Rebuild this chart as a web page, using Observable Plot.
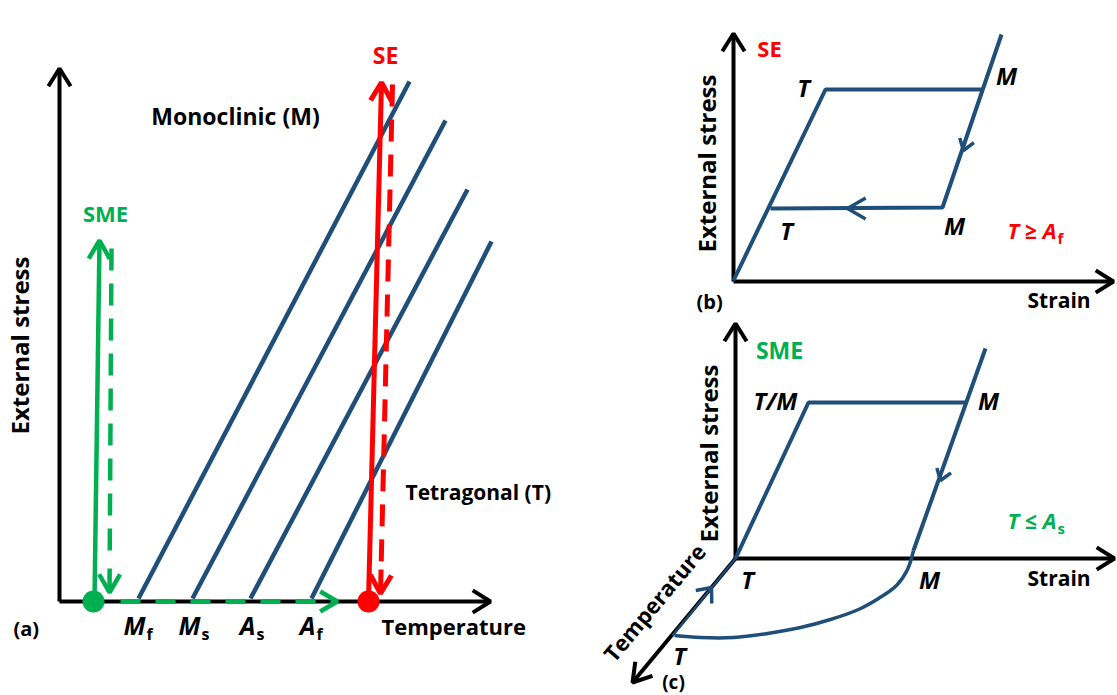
<!DOCTYPE html>
<html><head><meta charset="utf-8">
<script src="https://cdn.jsdelivr.net/npm/d3@7"></script>
<script src="https://cdn.jsdelivr.net/npm/@observablehq/plot@0.6"></script>
<style>
body{margin:0;background:#fff;}
#chart{width:1117px;height:695px;}
</style>
</head><body><div id="chart"></div>
<script>
const BLUE = "#1f4e79", GREEN = "#00b050", RED = "#ff0000", BLACK = "#000000";

// ---------- Panel (a): temperature vs external stress phase diagram ----------
const axesA = [
  {x1: 59, y1: 601, x2: 59, y2: 68},
  {x1: 59, y1: 601, x2: 490, y2: 601}
];
const transitionLines = [
  {name: "Mf", x1: 138, y1: 598, x2: 409, y2: 81},
  {name: "Ms", x1: 192, y1: 598, x2: 445, y2: 120},
  {name: "As", x1: 250, y1: 598, x2: 467, y2: 189},
  {name: "Af", x1: 311, y1: 598, x2: 491, y2: 241}
];
const solidArrowsA = [
  {x1: 94, y1: 600, x2: 99, y2: 240, c: GREEN, w: 4.5},   // SME loading
  {x1: 368, y1: 600, x2: 381, y2: 82, c: RED, w: 5}        // SE loading
];
const dashedArrowsA = [
  {x1: 111, y1: 248, x2: 109, y2: 592, c: GREEN, w: 4.5}, // SME unloading
  {x1: 392, y1: 84, x2: 380, y2: 593, c: RED, w: 5}        // SE unloading
];
const heatingA = [{x1: 120, y1: 601, x2: 337, y2: 601, c: GREEN, w: 4.5}];
const startPoints = [{x: 93, y: 601, c: GREEN}, {x: 368, y: 601, c: RED}];
const tempLabels = [
  {main: "M", sub: "f", x: 145, y: 634},
  {main: "M", sub: "s", x: 200, y: 634},
  {main: "A", sub: "s", x: 255, y: 634},
  {main: "A", sub: "f", x: 315, y: 634}
];

// ---------- Panel (b): SE stress-strain loop ----------
const axesB = [
  {x1: 733, y1: 281, x2: 733, y2: 33},
  {x1: 733, y1: 281, x2: 1113, y2: 281}
];
const seLoading = [{x: 733, y: 280}, {x: 825, y: 89}, {x: 983, y: 89}];
const seUnloading = [{x: 1001, y: 34}, {x: 942, y: 207}, {x: 770, y: 208}];

// ---------- Panel (c): SME stress-strain-temperature path ----------
const axesC = [
  {x1: 735, y1: 558, x2: 735, y2: 323},
  {x1: 735, y1: 558, x2: 1114, y2: 558},
  {x1: 735, y1: 558, x2: 632, y2: 682}
];
const smeLoading = [{x: 735, y: 558}, {x: 808, y: 402}, {x: 965, y: 402}];
const smeUnloading = [{x: 985, y: 348}, {x: 913, y: 550}];
const smeRecovery = [
  {x: 913, y: 550}, {x: 907, y: 569}, {x: 896, y: 585}, {x: 878, y: 598},
  {x: 858, y: 609}, {x: 830, y: 619}, {x: 800, y: 627}, {x: 767, y: 633},
  {x: 733, y: 637}, {x: 700, y: 637}, {x: 674, y: 635}
];
const heatingC = [{x1: 672, y1: 635, x2: 735, y2: 558}];

// mid-path direction markers: tip + a point behind it on the path
const pathMarkers = [
  {tx: 963, ty: 150, bx: 1001, by: 34, len: 13, half: 35},   // (b) unloading
  {tx: 847, ty: 208, bx: 942, by: 208, len: 21, half: 30},   // (b) reverse
  {tx: 940, ty: 480, bx: 985, by: 348, len: 13, half: 35},   // (c) unloading
  {tx: 711, ty: 587, bx: 672, by: 635, len: 16, half: 40}    // (c) heating
];

// ---------- text ----------
const middleLabels = [
  {t: "Monoclinic (M)", x: 235, y: 124, c: BLACK, s: 23},
  {t: "SE", x: 385, y: 63, c: RED, s: 23},
  {t: "SME", x: 105, y: 221, c: GREEN, s: 22},
  {t: "SE", x: 769, y: 56, c: RED, s: 22},
  {t: "SME", x: 779, y: 358, c: GREEN, s: 23},
  {t: "(c)", x: 673, y: 688, c: BLACK, s: 19}
];
const startLabels = [
  {t: "Tetragonal (T)", x: 405, y: 499, c: BLACK, s: 21},
  {t: "(a)", x: 13, y: 635, c: BLACK, s: 20},
  {t: "Temperature", x: 381, y: 634, c: BLACK, s: 22},
  {t: "(b)", x: 696, y: 308, c: BLACK, s: 20},
  {t: "Strain", x: 1027, y: 307, c: BLACK, s: 21},
  {t: "Strain", x: 1027, y: 585, c: BLACK, s: 21}
];
const rotatedLabels = [
  {t: "External stress", x: 21, y: 345, r: -90, s: 24},
  {t: "External stress", x: 708, y: 163, r: -90, s: 24},
  {t: "External stress", x: 710, y: 453, r: -90, s: 24},
  {t: "Temperature", x: 655, y: 603, r: -50, s: 22}
];
const italicLabels = [
  {t: "T", x: 803, y: 96}, {t: "M", x: 1006, y: 84},
  {t: "T", x: 786, y: 239}, {t: "M", x: 954, y: 234},
  {t: "T/M", x: 775, y: 409}, {t: "M", x: 988, y: 409},
  {t: "T", x: 747, y: 588}, {t: "M", x: 929, y: 588},
  {t: "T", x: 679, y: 664}
];
const conditionLabels = [
  {main: "T ≥ A", sub: "f", x: 1056, y: 238, c: RED},
  {main: "T ≤ A", sub: "s", x: 1056, y: 528, c: GREEN}
];

// ---------- derived geometry (arrow heads, dash split) ----------
let hid = 0;
const headPts = [];
function addHead(tx, ty, bx, by, len, half, c, w) {
  const d = Math.hypot(bx - tx, by - ty), ux = (bx - tx) / d, uy = (by - ty) / d;
  const a = half * Math.PI / 180, id = hid++;
  const rot = (s) => ({x: tx + len * (ux * Math.cos(s * a) - uy * Math.sin(s * a)),
                       y: ty + len * (ux * Math.sin(s * a) + uy * Math.cos(s * a))});
  const p1 = rot(1), p2 = rot(-1);
  headPts.push({...p1, id, c, w}, {x: tx, y: ty, id, c, w}, {...p2, id, c, w});
}
const axesAll = [...axesA, ...axesB, ...axesC];
axesAll.forEach(a => addHead(a.x2, a.y2, a.x1, a.y1, 21, 32, BLACK, 4));
solidArrowsA.forEach(a => addHead(a.x2, a.y2, a.x1, a.y1, 21, 30, a.c, a.w));
dashedArrowsA.forEach(a => addHead(a.x2, a.y2, a.x1, a.y1, 21, 30, a.c, a.w));
heatingA.forEach(a => addHead(a.x2, a.y2, a.x1, a.y1, 20, 30, a.c, a.w));
pathMarkers.forEach(m => addHead(m.tx, m.ty, m.bx, m.by, m.len, m.half, BLUE, 3.5));

const dashedParts = [], solidTips = [];
dashedArrowsA.forEach(a => {
  const d = Math.hypot(a.x2 - a.x1, a.y2 - a.y1), f = (d - 30) / d, g = (d - 24) / d;
  dashedParts.push({x1: a.x1, y1: a.y1, x2: a.x1 + f * (a.x2 - a.x1), y2: a.y1 + f * (a.y2 - a.y1), c: a.c, w: a.w});
  solidTips.push({x1: a.x1 + g * (a.x2 - a.x1), y1: a.y1 + g * (a.y2 - a.y1), x2: a.x2, y2: a.y2, c: a.c, w: a.w});
});

const FONT = "'Open Sans', 'DejaVu Sans', sans-serif";
const T = {fontWeight: 700, lineAnchor: "bottom"};
const chart = Plot.plot({
  width: 1117, height: 695, margin: 0,
  x: {domain: [0, 1117], range: [0, 1117], axis: null},
  y: {domain: [0, 695], range: [0, 695], axis: null},
  color: {type: "identity"},
  style: {fontFamily: FONT, fontWeight: "bold", background: "#fff", overflow: "visible"},
  marks: [
    Plot.link(axesAll, {x1: "x1", y1: "y1", x2: "x2", y2: "y2", stroke: BLACK, strokeWidth: 4, strokeLinecap: "butt"}),
    Plot.link(transitionLines, {x1: "x1", y1: "y1", x2: "x2", y2: "y2", stroke: BLUE, strokeWidth: 4.5, strokeLinecap: "butt"}),
    Plot.link(heatingA, {x1: "x1", y1: "y1", x2: "x2", y2: "y2", stroke: "c", strokeWidth: "w", strokeDasharray: "20,15", strokeLinecap: "butt"}),
    Plot.link(solidArrowsA, {x1: "x1", y1: "y1", x2: "x2", y2: "y2", stroke: "c", strokeWidth: "w", strokeLinecap: "butt"}),
    Plot.link(dashedParts, {x1: "x1", y1: "y1", x2: "x2", y2: "y2", stroke: "c", strokeWidth: "w", strokeDasharray: "22,13", strokeLinecap: "butt"}),
    Plot.link(solidTips, {x1: "x1", y1: "y1", x2: "x2", y2: "y2", stroke: "c", strokeWidth: "w", strokeLinecap: "butt"}),
    Plot.line(seLoading, {x: "x", y: "y", stroke: BLUE, strokeWidth: 4, strokeLinejoin: "miter", strokeLinecap: "butt"}),
    Plot.line(seUnloading, {x: "x", y: "y", stroke: BLUE, strokeWidth: 4, strokeLinejoin: "miter", strokeLinecap: "butt"}),
    Plot.line(smeLoading, {x: "x", y: "y", stroke: BLUE, strokeWidth: 4, strokeLinejoin: "miter", strokeLinecap: "butt"}),
    Plot.line(smeUnloading, {x: "x", y: "y", stroke: BLUE, strokeWidth: 4, strokeLinecap: "butt"}),
    Plot.line(smeRecovery, {x: "x", y: "y", stroke: BLUE, strokeWidth: 3.5, curve: "catmull-rom", strokeLinecap: "butt"}),
    Plot.link(heatingC, {x1: "x1", y1: "y1", x2: "x2", y2: "y2", stroke: BLUE, strokeWidth: 2, strokeLinecap: "butt"}),
    Plot.line(headPts, {x: "x", y: "y", z: "id", stroke: "c", strokeWidth: "w", strokeLinejoin: "miter", strokeLinecap: "butt"}),
    Plot.dot(startPoints, {x: "x", y: "y", r: 11, fill: "c"}),
    Plot.text(middleLabels, {...T, x: "x", y: "y", text: "t", textAnchor: "middle", fill: "c", fontSize: "s"}),
    Plot.text(startLabels, {...T, x: "x", y: "y", text: "t", textAnchor: "start", fill: "c", fontSize: "s"}),
    Plot.text(rotatedLabels, {x: "x", y: "y", text: "t", rotate: "r", fill: BLACK, fontSize: "s", fontWeight: 700, lineAnchor: "middle"}),
    Plot.text(italicLabels, {...T, x: "x", y: "y", text: "t", fill: BLACK, fontSize: 24, fontStyle: "italic"}),
    Plot.text(tempLabels, {...T, x: "x", y: "y", text: "main", fill: BLACK, fontSize: 25, fontStyle: "italic", textAnchor: "end"}),
    Plot.text(tempLabels, {...T, x: d => d.x + 1, y: d => d.y + 5, text: "sub", fill: BLACK, fontSize: 16, textAnchor: "start"}),
    Plot.text(conditionLabels, {...T, x: "x", y: "y", text: "main", fill: "c", fontSize: 22, fontStyle: "italic", textAnchor: "end"}),
    Plot.text(conditionLabels, {...T, x: d => d.x + 1, y: d => d.y + 5, text: "sub", fill: "c", fontSize: 15, textAnchor: "start"})
  ]
});
document.getElementById("chart").appendChild(chart);
</script>
</body></html>
